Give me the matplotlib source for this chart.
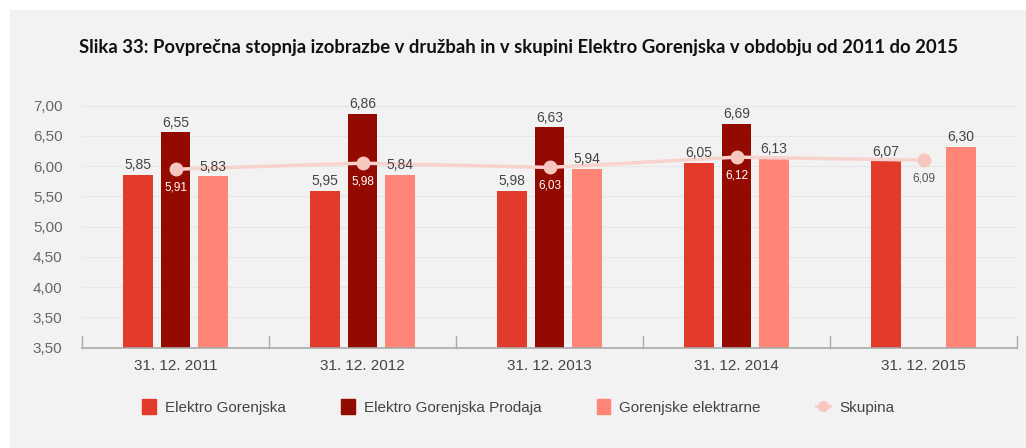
import matplotlib.pyplot as plt
from matplotlib.patches import Rectangle, Patch
from matplotlib.lines import Line2D
import numpy as np

plt.rcParams['font.family'] = ['Liberation Sans', 'DejaVu Sans']

categories = ['31. 12. 2011', '31. 12. 2012', '31. 12. 2013', '31. 12. 2014', '31. 12. 2015']

# bar heights as drawn in the picture (labels differ in places)
eg_vals = [5.85, 5.59, 5.59, 6.06, 6.08]
egp_vals = [6.56, 6.87, 6.64, 6.70, np.nan]
ge_vals = [5.83, 5.85, 5.96, 6.12, 6.32]
sk_vals = [5.95, 6.05, 5.98, 6.15, 6.10]

eg_labels = ['5,85', '5,95', '5,98', '6,05', '6,07']
egp_labels = ['6,55', '6,86', '6,63', '6,69', '']
ge_labels = ['5,83', '5,84', '5,94', '6,13', '6,30']
sk_labels = ['5,91', '5,98', '6,03', '6,12', '6,09']

yticks = [3.0, 3.5, 4.0, 4.5, 5.0, 5.5, 6.0, 6.5, 7.0]
ytick_labels = ['3,50', '3,50', '4,00', '4,50', '5,00', '5,50', '6,00', '6,50', '7,00']

c_eg = '#e23a2b'
c_egp = '#930b00'
c_ge = '#ff8578'
c_sk = '#f8d3ce'
txt = '#444444'

fig = plt.figure(figsize=(10.26, 4.48), dpi=100)
fig.patch.set_facecolor('white')
fig.patches.append(Rectangle((10 / 1026, 0), 1, 1 - 10 / 448, transform=fig.transFigure,
                             facecolor='#f2f2f2', edgecolor='none', zorder=-10))

ax = fig.add_axes([82 / 1026, 1 - 347.7 / 448, 935 / 1026, 242 / 448])
ax.set_facecolor('none')
ax.set_zorder(2)

x = np.arange(len(categories))
w = 0.16
off = 0.2

b1 = ax.bar(x - off, np.array(eg_vals) - 3, w, bottom=3, color=c_eg, zorder=2)
b2 = ax.bar(x, np.array(egp_vals) - 3, w, bottom=3, color=c_egp, zorder=2)
b3 = ax.bar(x + off, np.array(ge_vals) - 3, w, bottom=3, color=c_ge, zorder=2)

for bars, vals, labs in [(b1, eg_vals, eg_labels), (b2, egp_vals, egp_labels), (b3, ge_vals, ge_labels)]:
    for b, v, l in zip(bars, vals, labs):
        if l:
            ax.annotate(l, (b.get_x() + b.get_width() / 2, v), xytext=(0, 2),
                        textcoords='offset points', ha='center', va='bottom',
                        fontsize=10, color=txt, zorder=5)

ax.plot(x, sk_vals, color=c_sk, lw=2.5, marker='o', markersize=9,
        markerfacecolor='#f7c6bf', markeredgecolor='#f7c6bf', zorder=3)
for i, (v, l) in enumerate(zip(sk_vals, sk_labels)):
    col = 'white' if i < 4 else '#555555'
    ax.annotate(l, (x[i], v), xytext=(0, -9), textcoords='offset points',
                ha='center', va='top', fontsize=8.5, color=col, zorder=5)

ax.set_xlim(-0.5, len(categories) - 0.5)
ax.set_ylim(3, 7)
ax.set_yticks(yticks)
ax.set_yticklabels(ytick_labels)
ax.set_xticks(x)
ax.set_xticklabels(categories)
ax.tick_params(axis='y', length=0, pad=14, labelsize=11, labelcolor='#666666')
ax.tick_params(axis='x', length=0, pad=8, labelsize=11, labelcolor=txt)
ax.yaxis.grid(True, color='#e6e6e6', lw=0.8, zorder=0)
ax.set_axisbelow(True)
for s in ['top', 'right', 'left']:
    ax.spines[s].set_visible(False)
ax.spines['bottom'].set_color('#aaaaaa')
ax.spines['bottom'].set_linewidth(1.2)

# separators between categories
for xs in np.arange(-0.5, len(categories), 1.0):
    ax.plot([xs, xs], [3, 3.2], color='#aaaaaa', lw=1, zorder=1, clip_on=False)

fig.text(0.505, 1 - 48 / 448, 'Slika 33: Povprečna stopnja izobrazbe v družbah in v skupini Elektro Gorenjska v obdobju od 2011 do 2015',
         ha='center', va='center', fontsize=13.3, fontweight='bold', family='Lato', color='#111111')

handles = [Patch(color=c_eg), Patch(color=c_egp), Patch(color=c_ge),
           Line2D([], [], color=c_sk, lw=2.5, marker='o', markersize=7,
                  markerfacecolor='#f7c6bf', markeredgecolor='#f7c6bf')]
names = ['Elektro Gorenjska', 'Elektro Gorenjska Prodaja', 'Gorenjske elektrarne', 'Skupina']
leg = fig.legend(handles, names, loc='center', bbox_to_anchor=(0.505, 1 - 407 / 448), ncol=4,
                 frameon=False, fontsize=11, handlelength=0.9, handleheight=1.1,
                 handletextpad=0.6, columnspacing=3.6)
for t in leg.get_texts():
    t.set_color(txt)

fig.savefig('out.png', dpi=100, facecolor=fig.get_facecolor())
